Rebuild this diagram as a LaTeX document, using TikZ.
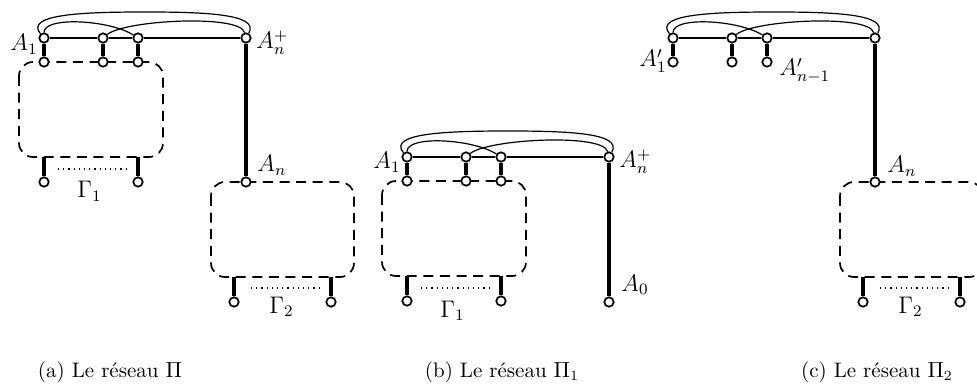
\documentclass[tikz,border=0pt]{standalone}
\newcommand\TopGraph[3]{% prefix, x0, y0
  \node[vtx] (#1a) at (#2,#3) {};
  \node[vtx] (#1b) at ({#2+59},#3) {};
  \node[vtx] (#1c) at ({#2+94},#3) {};
  \node[vtx] (#1d) at ({#2+202},#3) {};
  \node[vtx] (#1a2) at (#2,{#3+24}) {};
  \node[vtx] (#1b2) at ({#2+59},{#3+24}) {};
  \node[vtx] (#1c2) at ({#2+94},{#3+24}) {};
  \coordinate (#1top) at ({#2+101},{#3-26});
  \draw[thinl] (#1a) -- (#1b) -- (#1c) -- (#1d);
  \draw[thinl] (#1a) .. controls ({#2-20},{#3-24}) and ({#2+41},{#3-26}) .. (#1top)
                     .. controls ({#2+161},{#3-26}) and ({#2+216},{#3-24}) .. (#1d);
  \draw[thinl] (#1a) .. controls (#2,{#3-22}) and ({#2+66},{#3-18}) .. (#1c);
  \draw[thinl] (#1b) .. controls ({#2+81},{#3-18}) and ({#2+196},{#3-24}) .. (#1d);
  \draw[thickl] (#1a) -- (#1a2);
  \draw[thickl] (#1b) -- (#1b2);
  \draw[thickl] (#1c) -- (#1c2);
}
\newcommand\BoxOne[3]{% prefix, x0, y0 (position of A1)
  \draw[boxl] ({#2-25},{#3+24}) rectangle ({#2+119},{#3+119});
  \coordinate (#1s1) at (#2,{#3+119});
  \coordinate (#1s2) at ({#2+94},{#3+119});
  \node[vtx] (#1t1) at (#2,{#3+144}) {};
  \node[vtx] (#1t2) at ({#2+94},{#3+144}) {};
  \draw[thickl] (#1s1) -- (#1t1);
  \draw[thickl] (#1s2) -- (#1t2);
  \coordinate (#1o1) at ({#2+14},{#3+131});
  \coordinate (#1o2) at ({#2+86},{#3+131});
  \draw[dotl] (#1o1) -- (#1o2);
  \node[lbl,anchor=base west] (#1G) at ({#2+33},{#3+160}) {$\Gamma_1$};
}
\newcommand\BoxTwo[3]{% prefix, x1, y1 (position of A_n)
  \draw[boxl] ({#2-35},#3) rectangle ({#2+108},{#3+95});
  \coordinate (#1s1) at ({#2-12},{#3+95});
  \coordinate (#1s2) at ({#2+85},{#3+95});
  \node[vtx] (#1t1) at ({#2-12},{#3+120}) {};
  \node[vtx] (#1t2) at ({#2+85},{#3+120}) {};
  \draw[thickl] (#1s1) -- (#1t1);
  \draw[thickl] (#1s2) -- (#1t2);
  \coordinate (#1o1) at ({#2+5},{#3+106});
  \coordinate (#1o2) at ({#2+73},{#3+106});
  \draw[dotl] (#1o1) -- (#1o2);
  \node[lbl,anchor=base west] (#1G) at ({#2+23},{#3+131}) {$\Gamma_2$};
}
\begin{document}
\begin{tikzpicture}[x=0.5pt,y=-0.5pt,
  vtx/.style={circle,draw,fill=white,line width=0.85pt,inner sep=0pt,minimum size=4.7pt},
  thickl/.style={line width=1.9pt},
  thinl/.style={line width=0.6pt},
  boxl/.style={line width=0.85pt,dash pattern=on 5pt off 3.3pt,rounded corners=7pt},
  dotl/.style={line width=0.75pt,dash pattern=on 0.6pt off 2pt},
  lbl/.style={inner sep=0pt,font=\fontsize{12}{14}\selectfont},
  captxt/.style={inner sep=0pt,font=\fontsize{10.5}{13}\selectfont},
]
\useasboundingbox (0,0) rectangle (977,389);
% ---------- panel (a)
\BoxOne{pa}{44}{38}
\BoxTwo{qa}{246}{182}
\TopGraph{ga}{44}{38}
\node[vtx] (aAn) at (246,182) {};
\draw[thickl] (gad) -- (aAn);
\node[lbl,anchor=base east] (aL1) at (38,51) {$A_1$};
\node[lbl,anchor=base west] (aL2) at (256,49) {$A_n^+$};
\node[lbl,anchor=base west] (aL3) at (257,172) {$A_n$};
% ---------- panel (b)
\BoxOne{pb}{407}{157}
\TopGraph{gb}{407}{157}
\node[vtx] (bA0) at (609,302) {};
\draw[thickl] (gbd) -- (bA0);
\node[lbl,anchor=base east] (bL1) at (401,169) {$A_1$};
\node[lbl,anchor=base west] (bL2) at (619,168) {$A_n^+$};
\node[lbl,anchor=base west] (bL3) at (621,291) {$A_0$};
% ---------- panel (c)
\BoxTwo{qc}{875}{182}
\TopGraph{gc}{673}{38}
\node[vtx] (cAn) at (875,182) {};
\draw[thickl] (gcd) -- (cAn);
\node[lbl,anchor=base east] (cL1) at (667,67) {$A'_1$};
\node[lbl,anchor=base west] (cL2) at (779,76) {$A'_{n-1}$};
\node[lbl,anchor=base west] (cL3) at (887,173) {$A_n$};
% ---------- captions
\node[captxt,anchor=base] (capa) at (110,377) {(a) Le réseau $\Pi$};
\node[captxt,anchor=base] (capb) at (502,377) {(b) Le réseau $\Pi_1$};
\node[captxt,anchor=base] (capc) at (877,377) {(c) Le réseau $\Pi_2$};
\end{tikzpicture}
\end{document}
